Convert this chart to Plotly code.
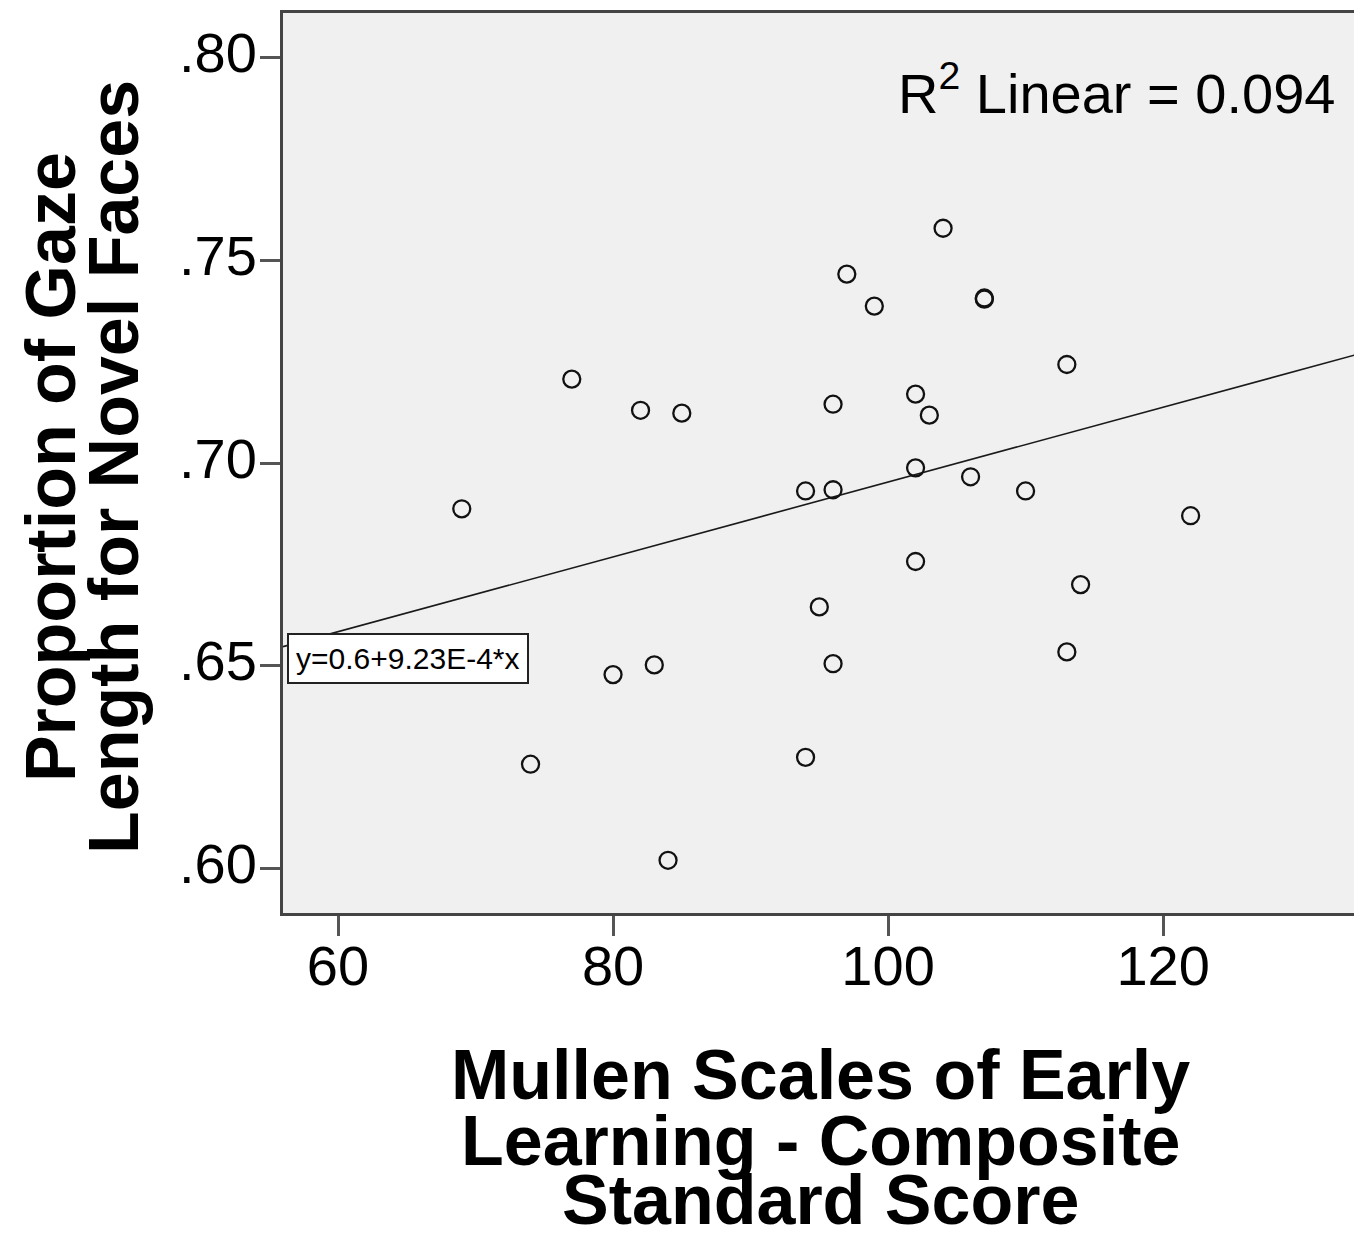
import plotly.graph_objects as go
import numpy as np

# Data
mullen_scores = [69, 77, 82, 85, 74, 80, 83, 84, 94, 95, 96, 94, 96, 96, 97, 99,
                 104, 107, 107, 102, 103, 102, 106, 110, 102, 113, 114, 113, 122]
gaze_proportion = [0.6887, 0.7207, 0.7130, 0.7123, 0.6257, 0.6478, 0.6502, 0.6020,
                   0.6274, 0.6645, 0.6505, 0.6931, 0.6934, 0.7145, 0.7466, 0.7387,
                   0.7579, 0.7404, 0.7407, 0.7170, 0.7118, 0.6988, 0.6966, 0.6931,
                   0.6757, 0.7243, 0.6700, 0.6534, 0.6870]

fit_intercept = 0.603
fit_slope = 9.23e-4
r2_text = "R<sup>2</sup> Linear = 0.094"
eq_text = "y=0.6+9.23E-4*x"

x_title_lines = ["Mullen Scales of Early", "Learning - Composite", "Standard Score"]
y_title_lines = ["Proportion of Gaze", "Length for Novel Faces"]

x_tickvals = [60, 80, 100, 120]
x_ticktext = ["60", "80", "100", "120"]
y_tickvals = [0.60, 0.65, 0.70, 0.75, 0.80]
y_ticktext = [".60", ".65", ".70", ".75", ".80"]

x_range = [56.0, 134.1]
y_range = [0.589, 0.811]

FONT = "Arial, Liberation Sans, sans-serif"

fig = go.Figure()

line_x = np.array(x_range)
fig.add_trace(go.Scatter(
    x=line_x, y=fit_intercept + fit_slope * line_x,
    mode="lines", line=dict(color="#1a1a1a", width=1.6),
    showlegend=False, hoverinfo="skip"))

fig.add_trace(go.Scatter(
    x=mullen_scores, y=gaze_proportion, mode="markers",
    marker=dict(symbol="circle-open", size=17, color="#111111",
                line=dict(width=2.3, color="#111111")),
    showlegend=False))

axis_common = dict(
    showline=True, linecolor="#444444", linewidth=3, mirror=True,
    ticks="outside", ticklen=20, tickwidth=3, tickcolor="#555555",
    showgrid=False, zeroline=False,
    tickfont=dict(family=FONT, size=56, color="black"),
)

annotations = []
# x-axis title, one annotation per line (tight line spacing as in the reference)
for txt, yy in zip(x_title_lines, [-0.1805, -0.2535, -0.3185]):
    annotations.append(dict(
        text=f"<b>{txt}</b>", xref="paper", yref="paper", x=0.5, y=yy,
        xanchor="center", yanchor="middle", showarrow=False,
        font=dict(family=FONT, size=70, color="black")))
# y-axis title
for txt, xx in zip(y_title_lines, [-0.2165, -0.158]):
    annotations.append(dict(
        text=f"<b>{txt}</b>", xref="paper", yref="paper", x=xx, y=0.496,
        xanchor="center", yanchor="middle", textangle=-90, showarrow=False,
        font=dict(family=FONT, size=70, color="black")))

annotations.append(dict(
    text=r2_text, xref="paper", yref="paper", x=0.981, y=0.873,
    xanchor="right", yanchor="bottom", showarrow=False,
    font=dict(family=FONT, size=56, color="black")))
annotations.append(dict(
    text=eq_text, xref="paper", yref="y", x=0.0037, y=0.6519,
    xanchor="left", yanchor="middle", showarrow=False,
    bgcolor="white", bordercolor="#222222", borderwidth=2, borderpad=7,
    font=dict(family=FONT, size=30, color="black")))

fig.update_layout(
    width=1354, height=1227,
    margin=dict(l=275, r=5, t=2, b=322),
    paper_bgcolor="white", plot_bgcolor="#f0f0f0",
    xaxis=dict(range=x_range, tickvals=x_tickvals, ticktext=x_ticktext,
               ticklabelstandoff=-18, **axis_common),
    yaxis=dict(range=y_range, tickvals=y_tickvals, ticktext=y_ticktext,
               ticklabelstandoff=-8, ticklabelshift=-5, **axis_common),
    annotations=annotations,
)

fig.write_html("out.html")
